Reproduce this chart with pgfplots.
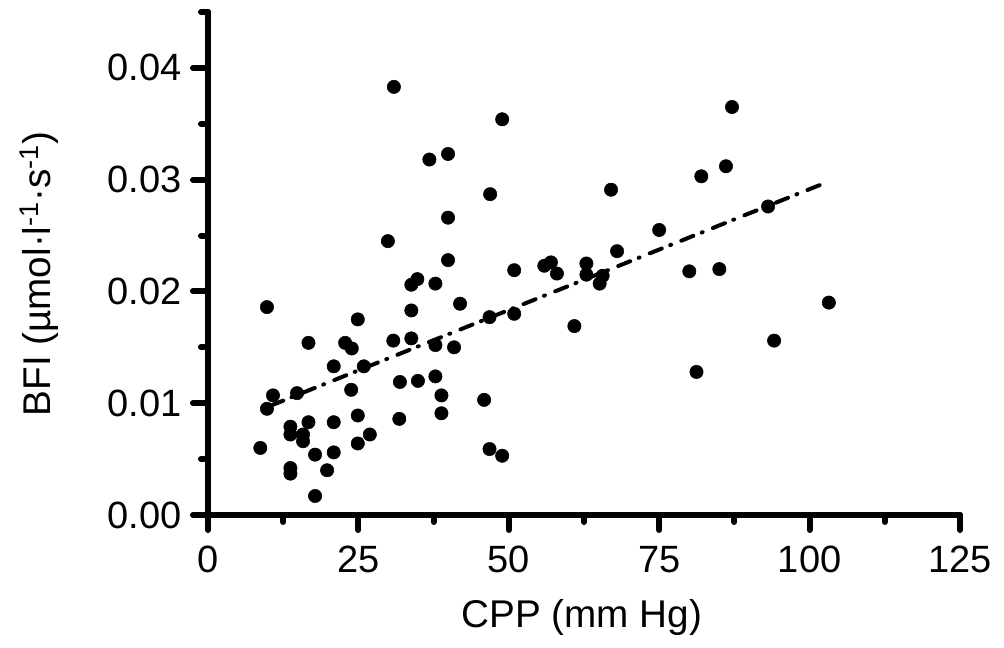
\documentclass[border=0pt]{standalone}
\usepackage{fontspec}
\setmainfont{Liberation Sans}
\usepackage{pgfplots}
\pgfplotsset{compat=1.18}
\begin{document}
\begin{tikzpicture}
\useasboundingbox (-156pt,-99.75pt) rectangle (597pt,386.25pt);
\begin{axis}[
  at={(0,0)}, anchor=origin,
  scale only axis, width=564pt, height=377.25pt,
  xmin=0, xmax=125, ymin=0, ymax=0.045,
  axis lines=left,
  axis line style={line width=4.5pt, line cap=round, -},
  xtick={0,25,50,75,100,125},
  ytick={0,0.01,0.02,0.03,0.04},
  minor xtick={12.5,37.5,62.5,87.5,112.5},
  minor ytick={0.005,0.015,0.025,0.035,0.045},
  tick align=outside,
  major tick length=11.25pt, minor tick length=5.25pt,
  every tick/.style={black, line width=4.5pt, line cap=round},
  scaled y ticks=false,
  /pgf/number format/assume math mode=true,
  yticklabel style={/pgf/number format/fixed, /pgf/number format/fixed zerofill, /pgf/number format/precision=2, anchor=east},
  ticklabel style={font=\fontsize{28.5}{34}\selectfont, inner sep=0pt},
  xticklabel style={anchor=base},
  yticklabel shift=8.25pt,
  xticklabel shift=32pt,
  xlabel={CPP (mm Hg)},
  ylabel={BFI (µmol·l\textsuperscript{-1}·s\textsuperscript{-1})},
  label style={font=\fontsize{29}{34}\selectfont, inner sep=0pt},
  xlabel style={at={(axis description cs:0.497,-0.2227)}, anchor=base},
  ylabel style={at={(axis description cs:-0.198,0.479)}, anchor=south},
  clip=false,
]
\addplot[only marks, mark=*, mark size=5pt, black] coordinates {
(9.8,0.0186) (24.9,0.0175) (16.7,0.0154) (22.8,0.0154) (23.9,0.0149)
(30.8,0.0156) (33.8,0.0158) (33.8,0.0183) (33.8,0.0206) (20.9,0.0133)
(25.9,0.0133) (31.9,0.0119) (34.9,0.0120) (10.8,0.0107) (14.8,0.0109)
(9.8,0.0095) (23.8,0.0112) (24.9,0.0089) (31.8,0.0086) (13.7,0.0079)
(13.7,0.0072) (16.7,0.0083) (20.9,0.0083) (15.8,0.0072) (15.8,0.0066)
(8.7,0.0060) (17.8,0.0054) (20.9,0.0056) (24.9,0.0064) (26.9,0.0072)
(13.7,0.0042) (13.7,0.0037) (19.8,0.0040) (17.8,0.0017) (30.9,0.0383)
(48.9,0.0354) (36.8,0.0318) (39.9,0.0323) (46.9,0.0287) (39.9,0.0266)
(29.9,0.0245) (39.9,0.0228) (50.9,0.0219) (34.8,0.0211) (37.8,0.0207)
(41.9,0.0189) (55.9,0.0223) (57.0,0.0226) (58.0,0.0216) (62.9,0.0225)
(62.9,0.0215) (65.6,0.0214) (65.1,0.0207) (68.0,0.0236) (46.8,0.0177)
(50.9,0.0180) (60.9,0.0169) (37.8,0.0152) (40.9,0.0150) (37.8,0.0124)
(38.8,0.0107) (38.8,0.0091) (45.9,0.0103) (46.8,0.0059) (48.9,0.0053)
(87.1,0.0365) (86.1,0.0312) (82.0,0.0303) (67.0,0.0291) (75.0,0.0255)
(93.1,0.0276) (80.0,0.0218) (85.0,0.0220) (103.2,0.0190) (94.1,0.0156)
(81.2,0.0128)
};
\addplot[black, line width=3pt, line cap=round,
  dash pattern=on 9.75pt off 6.75pt on 0.75pt off 8.25pt] coordinates {
(10.5,0.0098) (103,0.0298)
};
\end{axis}
\end{tikzpicture}
\end{document}
